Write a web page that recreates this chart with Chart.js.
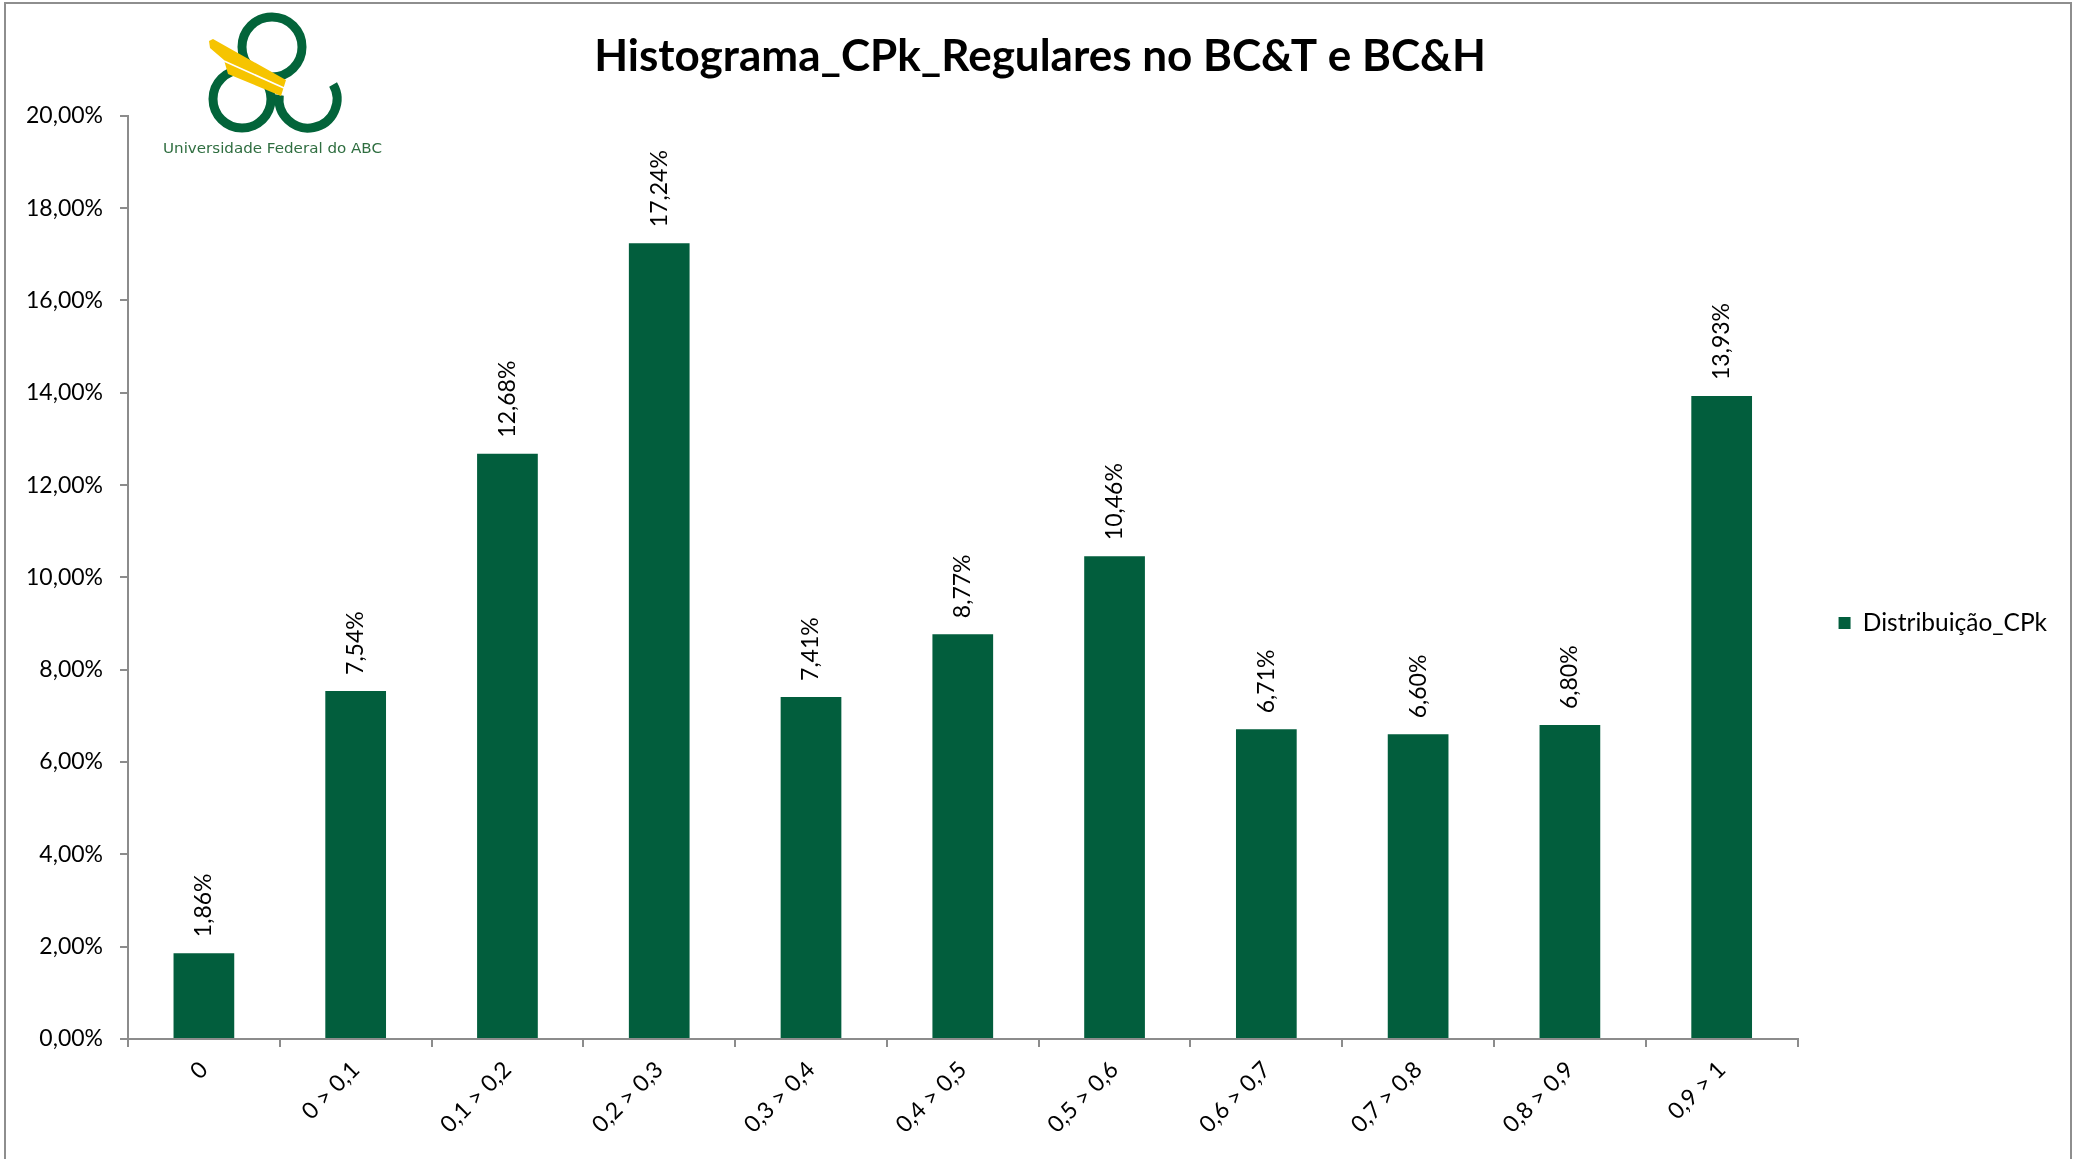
<!DOCTYPE html>
<html>
<head>
<meta charset="utf-8">
<title>Histograma CPk</title>
<script src="https://cdn.jsdelivr.net/npm/chart.js@4.4.1/dist/chart.umd.min.js"></script>
<style>
  html, body { margin: 0; padding: 0; background: #fff; }
  #wrap { position: relative; width: 2080px; height: 1159px; overflow: hidden; }
  #cpkChart { position: absolute; left: 0; top: 0; }
  #logo { position: absolute; left: 0; top: 0; }
  #frame { position: absolute; left: 4px; top: 2px; width: 2068px; height: 1220px;
           border: 2px solid #8e8e8e; box-sizing: border-box; pointer-events: none; }
</style>
</head>
<body>
<div id="wrap">
  <canvas id="cpkChart" width="2080" height="1159"></canvas>

  <!-- logo UFABC (imagem colada no grafico original) -->
  <svg id="logo" width="420" height="170" viewBox="0 0 420 170">
    <g fill="none" stroke="#03643a" stroke-width="9">
      <circle cx="272" cy="47" r="30"/>
      <circle cx="242" cy="99" r="29"/>
      <path d="M 279.3 95 A 29 29 0 1 0 333.1 84.5"/>
    </g>
    <polygon points="209,41 213,39 286,80 281,96 228,74 224,60 210,48" fill="#f6c400"/>
    <line x1="224" y1="61" x2="284" y2="88" stroke="#fff" stroke-width="1.6"/>
    <text x="163" y="153" font-family="DejaVu Sans" font-size="14" fill="#2f6e40"
          textLength="219" lengthAdjust="spacingAndGlyphs">Universidade Federal do ABC</text>
  </svg>

  <div id="frame"></div>
</div>

<script>
const categories = ['0', '0 > 0,1', '0,1 > 0,2', '0,2 > 0,3', '0,3 > 0,4', '0,4 > 0,5',
                    '0,5 > 0,6', '0,6 > 0,7', '0,7 > 0,8', '0,8 > 0,9', '0,9 > 1'];
const distribuicao = [1.86, 7.54, 12.68, 17.24, 7.41, 8.77, 10.46, 6.71, 6.60, 6.80, 13.93];
const seriesName = 'Distribuição_CPk';
const chartTitle = 'Histograma_CPk_Regulares no BC&T e BC&H';
const yMin = 0;
const yMax = 20;
const yStep = 2;

const barColor = '#025e3d';
const axisColor = '#8c8c8c';
const fontFamily = 'Lato';

// 12,68 -> "12,68%"
function fmtPct(v) {
    return v.toFixed(2).replace('.', ',') + '%';
}

// rotated value labels above each bar
const barLabels = {
    id: 'barLabels',
    afterDatasetsDraw(chart) {
        const ctx = chart.ctx;
        const meta = chart.getDatasetMeta(0);
        ctx.save();
        ctx.font = '23px ' + fontFamily;
        ctx.fillStyle = '#000';
        ctx.textAlign = 'left';
        ctx.textBaseline = 'middle';
        meta.data.forEach((bar, i) => {
            ctx.save();
            ctx.translate(bar.x, bar.y - 16);
            ctx.rotate(-Math.PI / 2);
            ctx.fillText(fmtPct(distribuicao[i]), 0, 0);
            ctx.restore();
        });
        ctx.restore();
    }
};

// title centred on the whole canvas, not on the space left of the legend padding
const titleFullWidth = {
    id: 'titleFullWidth',
    afterLayout(chart) {
        if (chart.titleBlock) {
            chart.titleBlock.left = 0;
            chart.titleBlock.right = chart.width;
        }
    }
};

function drawChart() {
    const ctx = document.getElementById('cpkChart').getContext('2d');

    new Chart(ctx, {
        type: 'bar',
        data: {
            labels: categories,
            datasets: [{
                label: seriesName,
                data: distribuicao,
                backgroundColor: barColor,
                borderWidth: 0,
                barPercentage: 0.4,
                categoryPercentage: 1.0
            }]
        },
        options: {
            responsive: false,
            animation: false,
            devicePixelRatio: 1,
            layout: {
                padding: { left: 0, right: 23, top: 0, bottom: 0 }
            },
            scales: {
                x: {
                    offset: true,
                    grid: {
                        display: true,
                        offset: true,
                        drawOnChartArea: false,
                        drawTicks: true,
                        tickLength: 8,
                        color: axisColor,
                        lineWidth: 2
                    },
                    border: { display: true, color: axisColor, width: 2 },
                    ticks: {
                        autoSkip: false,
                        minRotation: 45,
                        maxRotation: 45,
                        padding: 9,
                        color: '#000',
                        font: { family: fontFamily, size: 23 }
                    },
                    afterFit(scale) { scale.height = 120; }
                },
                y: {
                    min: yMin,
                    max: yMax,
                    grid: {
                        display: true,
                        drawOnChartArea: false,
                        drawTicks: true,
                        tickLength: 8,
                        color: axisColor,
                        lineWidth: 2
                    },
                    border: { display: true, color: axisColor, width: 2 },
                    ticks: {
                        stepSize: yStep,
                        padding: 17,
                        color: '#000',
                        font: { family: fontFamily, size: 23 },
                        callback: v => fmtPct(v)
                    },
                    afterFit(scale) { scale.width = 128; }
                }
            },
            plugins: {
                title: {
                    display: true,
                    text: chartTitle,
                    color: '#000',
                    font: { family: fontFamily, size: 44, weight: 'bold' },
                    padding: { top: 30, bottom: 33 }
                },
                legend: {
                    display: true,
                    position: 'right',
                    // empty title only pushes the single item a bit lower
                    title: { display: true, text: '', font: { size: 10 }, padding: { top: 0, bottom: 75 } },
                    labels: {
                        boxWidth: 12,
                        boxHeight: 12,
                        padding: 41,
                        color: '#000',
                        font: { family: fontFamily, size: 24.5 }
                    }
                },
                tooltip: { enabled: false }
            }
        },
        plugins: [barLabels, titleFullWidth]
    });
}

document.fonts.load('22px ' + fontFamily).then(drawChart, drawChart);
</script>
</body>
</html>
